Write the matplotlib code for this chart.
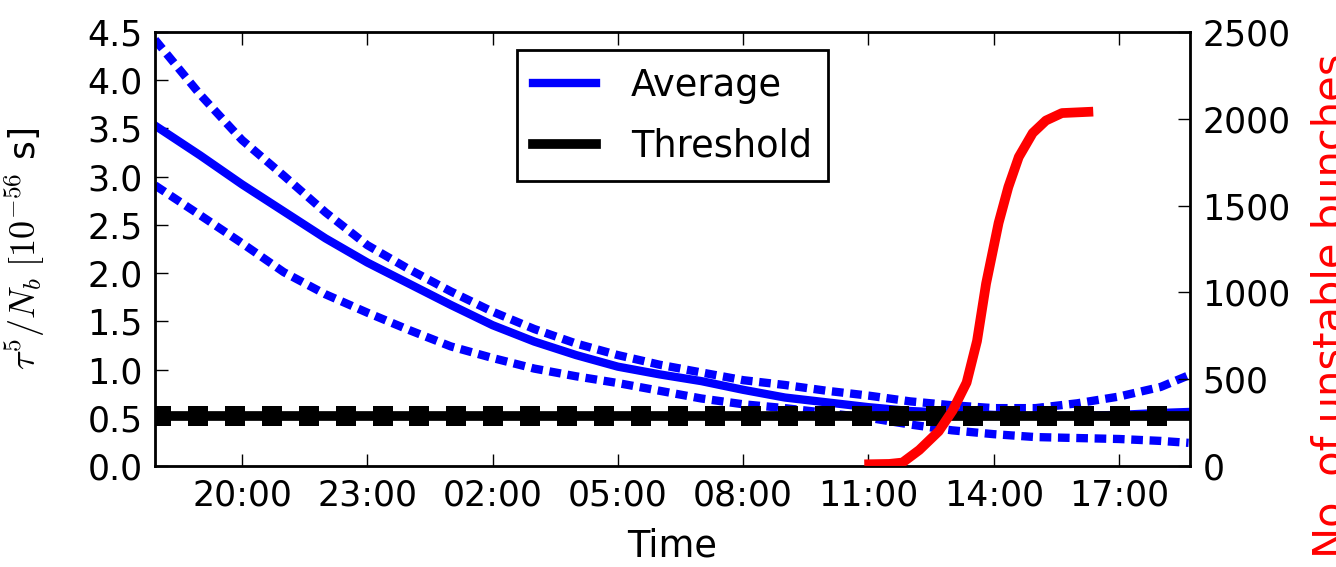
import matplotlib
matplotlib.use("Agg")
import matplotlib.pyplot as plt
import matplotlib.dates as mdates
import pandas as pd

plt.rcParams["mathtext.fontset"] = "cm"
plt.rcParams["font.family"] = ["DejaVu Sans"]

# blue curves (tau^5/N_b), hourly samples
blue_times = ["2016-05-01 17:55", "2016-05-01 19:00", "2016-05-01 20:00", "2016-05-01 21:00",
              "2016-05-01 22:00", "2016-05-01 23:00", "2016-05-02 00:00", "2016-05-02 01:00",
              "2016-05-02 02:00", "2016-05-02 03:00", "2016-05-02 04:00", "2016-05-02 05:00",
              "2016-05-02 06:00", "2016-05-02 07:00", "2016-05-02 08:00", "2016-05-02 09:00",
              "2016-05-02 10:00", "2016-05-02 11:00", "2016-05-02 12:00", "2016-05-02 13:00",
              "2016-05-02 14:00", "2016-05-02 15:00", "2016-05-02 16:00", "2016-05-02 17:00",
              "2016-05-02 18:00", "2016-05-02 18:40"]
average = [3.53, 3.22, 2.92, 2.64, 2.36, 2.11, 1.89, 1.67, 1.46, 1.29, 1.15, 1.03, 0.95,
           0.88, 0.79, 0.71, 0.66, 0.61, 0.57, 0.55, 0.53, 0.52, 0.52, 0.53, 0.55, 0.56]
upper = [4.42, 3.85, 3.38, 3.01, 2.63, 2.29, 2.04, 1.81, 1.60, 1.42, 1.27, 1.15, 1.05,
         0.97, 0.89, 0.84, 0.78, 0.73, 0.67, 0.63, 0.60, 0.60, 0.65, 0.72, 0.82, 0.94]
lower = [2.91, 2.60, 2.31, 2.01, 1.78, 1.59, 1.41, 1.24, 1.12, 1.01, 0.93, 0.86, 0.78,
         0.70, 0.64, 0.60, 0.55, 0.50, 0.43, 0.37, 0.33, 0.30, 0.29, 0.28, 0.26, 0.24]

threshold = 0.52
thr_start, thr_end = "2016-05-01 17:55", "2016-05-02 18:42"

# unstable bunches (right axis)
red_times = ["2016-05-02 11:01", "2016-05-02 11:30", "2016-05-02 11:49", "2016-05-02 12:13",
             "2016-05-02 12:41", "2016-05-02 13:01", "2016-05-02 13:21", "2016-05-02 13:36",
             "2016-05-02 13:49", "2016-05-02 14:07", "2016-05-02 14:21", "2016-05-02 14:36",
             "2016-05-02 14:56", "2016-05-02 15:15", "2016-05-02 15:38", "2016-05-02 16:16"]
unstable = [10, 12, 20, 92, 200, 320, 480, 720, 1050, 1400, 1607, 1780, 1918, 1990, 2033, 2040]

bt = pd.to_datetime(blue_times)
rt = pd.to_datetime(red_times)
thr_marks = pd.date_range("2016-05-01 18:04", thr_end, freq="53min")

fig = plt.figure(figsize=(13.36, 5.67), dpi=100)
ax = fig.add_axes([155/1336, 101/567, 1035/1336, 434/567])

ax.plot(bt, upper, color="blue", lw=6, dashes=(1.4, 0.8))
ax.plot(bt, lower, color="blue", lw=6, dashes=(1.4, 0.8))
ax.plot(bt, average, color="blue", lw=6, label="Average")
ax.plot(pd.to_datetime([thr_start, thr_end]), [threshold, threshold], color="black", lw=7,
        label="Threshold")
ax.plot(thr_marks, [threshold] * len(thr_marks), ls="none", marker="s", ms=14, mew=0,
        color="black")

ax.set_xlim(pd.Timestamp(thr_start), pd.Timestamp(thr_end))
ax.set_ylim(0, 4.5)
ax.set_yticks([0, 0.5, 1, 1.5, 2, 2.5, 3, 3.5, 4, 4.5])
ax.yaxis.set_major_formatter(matplotlib.ticker.FormatStrFormatter("%.1f"))
ax.xaxis.set_major_locator(mdates.HourLocator(byhour=[20, 23, 2, 5, 8, 11, 14, 17]))
ax.xaxis.set_major_formatter(mdates.DateFormatter("%H:%M"))
ax.tick_params(axis="both", direction="in", length=9, width=1, labelsize=25, pad=9)
ax.tick_params(axis="x", top=True)
ax.set_xlabel("Time", fontsize=26.5, labelpad=11)
ax.set_ylabel(r"$\tau^5/N_b\ [10^{-56}$ s]", fontsize=26)
ax.yaxis.set_label_coords(-0.104, 0.5)
for s in ax.spines.values():
    s.set_linewidth(2)

leg = ax.legend(loc="upper center", fontsize=26.5, fancybox=False, edgecolor="black",
                framealpha=1, handlelength=1.7, handletextpad=0.95, borderpad=0.45,
                labelspacing=0.65)
leg.get_frame().set_linewidth(2)

ax2 = ax.twinx()
ax2.plot(rt, unstable, color="red", lw=7)
ax2.set_ylim(0, 2500)
ax2.set_yticks([0, 500, 1000, 1500, 2000, 2500])
ax2.tick_params(axis="y", direction="in", length=9, width=1, labelsize=25, pad=9)
ax2.set_ylabel("No. of unstable bunches", color="red", fontsize=30)
ax2.yaxis.set_label_coords(1.116, 0.37)

fig.savefig("out.png", dpi=100)
